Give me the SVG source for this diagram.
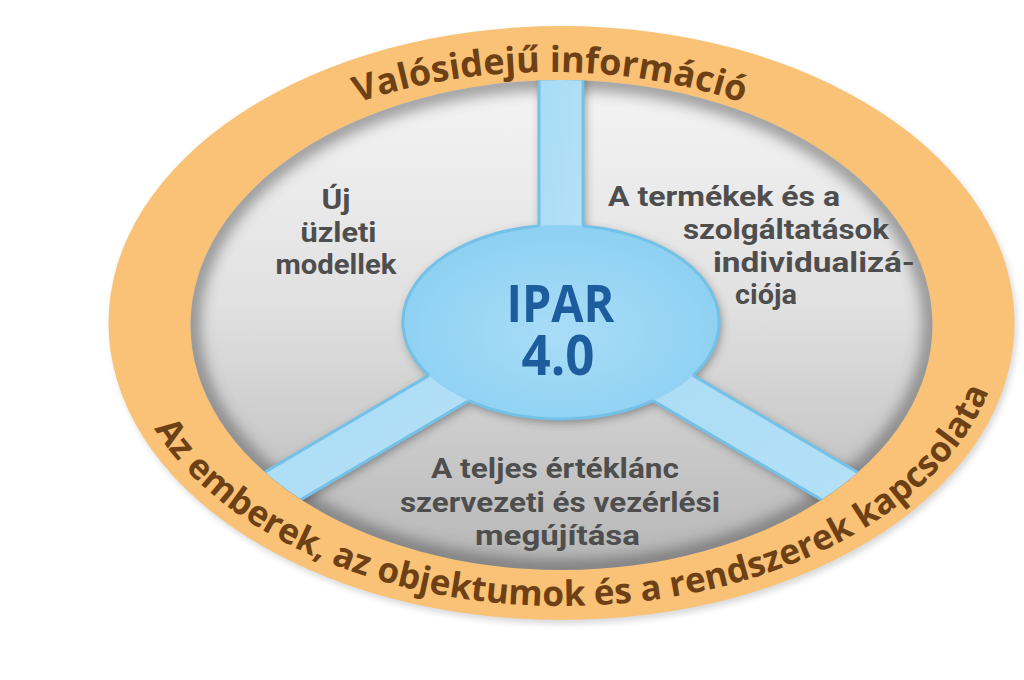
<svg xmlns="http://www.w3.org/2000/svg" width="1024" height="680" viewBox="0 0 1024 680">
<defs>
<style>
.ring{font-family:"Open Sans","Noto Sans","DejaVu Sans",sans-serif;font-weight:700;fill:#6d4115;}
.seg{font-family:Roboto,"Open Sans","DejaVu Sans",sans-serif;font-weight:700;font-size:27.5px;fill:#4e4e4e;}
.hub{font-family:"Open Sans","Noto Sans","DejaVu Sans",sans-serif;font-weight:700;fill:#1d5d9d;}
.spoke{fill:url(#spokeFill);}
.edge{stroke:#74c1e8;stroke-width:3;fill:none;}
.shadow{fill:#333333;}
</style>
<clipPath id="clipInner"><ellipse cx="561.5" cy="325" rx="371" ry="245"/></clipPath>
<linearGradient id="grayFill" gradientUnits="userSpaceOnUse" x1="0" y1="80" x2="0" y2="570">
<stop offset="0" stop-color="#f4f4f4"/>
<stop offset="0.45" stop-color="#e1e1e1"/>
<stop offset="0.75" stop-color="#c9c9c9"/>
<stop offset="1" stop-color="#b6b6b6"/>
</linearGradient>
<radialGradient id="hubFill" cx="0.5" cy="0.55" r="0.55">
<stop offset="0" stop-color="#a8ddf7"/>
<stop offset="1" stop-color="#8dd0f2"/>
</radialGradient>
<linearGradient id="spokeFill" x1="0" y1="0" x2="1" y2="1">
<stop offset="0" stop-color="#a8dbf5"/>
<stop offset="1" stop-color="#b6e2f7"/>
</linearGradient>
<filter id="blur3" x="-10%" y="-10%" width="120%" height="120%"><feGaussianBlur stdDeviation="3"/></filter>
<filter id="blur5" x="-20%" y="-20%" width="140%" height="140%"><feGaussianBlur stdDeviation="5"/></filter>
<filter id="blur7" x="-10%" y="-10%" width="120%" height="120%"><feGaussianBlur stdDeviation="7"/></filter>
<path id="arcTop" d="M 360 102 A 400 250 0 0 1 740 102"/>
<path id="arcBottom" d="M 155.5 430.7 A 440 284 0 0 0 988 393.1"/>
</defs>

<rect width="1024" height="680" fill="#ffffff"/>

<g id="ring">
<ellipse cx="564" cy="327" rx="453" ry="297" fill="#000" opacity="0.15" filter="url(#blur3)"/>
<ellipse cx="561.5" cy="323" rx="453" ry="297" fill="#f9c276"/>
</g>

<g id="field">
<ellipse cx="561.5" cy="325" rx="371" ry="245" fill="url(#grayFill)"/>
<g clip-path="url(#clipInner)">
<ellipse cx="561.5" cy="325" rx="371" ry="245" fill="none" stroke="#4a4a4a" stroke-width="20" opacity="0.5" filter="url(#blur7)"/>
<g class="shadow" opacity="0.5" filter="url(#blur5)" transform="translate(2,3)">
<ellipse cx="561" cy="322" rx="158" ry="97"/>
<polygon points="539,322 539,40 583,40 583,322"/>
<polygon points="550.34,303.91 162.6,532.3 184,568.5 571.66,340.09"/>
<polygon points="571.66,303.91 959.4,532.3 938,568.5 550.34,340.09"/>
</g>
</g>
</g>

<g id="connectors" clip-path="url(#clipInner)">
<polygon class="spoke" points="539,322 539,60 583,60 583,322"/>
<polygon class="spoke" points="550.34,303.91 162.6,532.3 184,568.5 571.66,340.09"/>
<polygon class="spoke" points="571.66,303.91 959.4,532.3 938,568.5 550.34,340.09"/>
<line class="edge" x1="539" y1="226" x2="539" y2="60"/>
<line class="edge" x1="583" y1="226" x2="583" y2="60"/>
<line class="edge" x1="429" y1="375.4" x2="162.6" y2="532.3"/>
<line class="edge" x1="468.7" y1="400.7" x2="184" y2="568.5"/>
<line class="edge" x1="693" y1="375.4" x2="959.4" y2="532.3"/>
<line class="edge" x1="653.3" y1="400.7" x2="938" y2="568.5"/>
</g>

<g id="node-ipar">
<ellipse cx="561" cy="322" rx="158" ry="97" fill="url(#hubFill)"/>
<path class="edge" d="M 583 225.95 A 158 97 0 0 1 693 375.4 M 653.3 400.7 A 158 97 0 0 1 468.7 400.7 M 429 375.4 A 158 97 0 0 1 539 225.95"/>
<text class="hub" text-anchor="middle"><tspan x="560.5" y="322" font-size="52" textLength="108" lengthAdjust="spacingAndGlyphs">IPAR</tspan><tspan x="558" y="375" font-size="55" textLength="73" lengthAdjust="spacingAndGlyphs">4.0</tspan></text>
</g>

<g id="seg-left">
<text class="seg" text-anchor="middle"><tspan x="336" y="208.5" textLength="29" lengthAdjust="spacingAndGlyphs">Új</tspan><tspan x="338.5" y="241.5" textLength="76" lengthAdjust="spacingAndGlyphs">üzleti</tspan><tspan x="336" y="274" textLength="121" lengthAdjust="spacingAndGlyphs">modellek</tspan></text>
</g>

<g id="seg-right">
<text class="seg"><tspan x="608" y="206" textLength="232" lengthAdjust="spacingAndGlyphs">A termékek és a</tspan><tspan x="683" y="239" textLength="206" lengthAdjust="spacingAndGlyphs">szolgáltatások</tspan><tspan x="713" y="271.5" textLength="202" lengthAdjust="spacingAndGlyphs">individualizá-</tspan><tspan x="735" y="304" textLength="62" lengthAdjust="spacingAndGlyphs">ciója</tspan></text>
</g>

<g id="seg-bottom">
<text class="seg" text-anchor="middle"><tspan x="555" y="478" textLength="248" lengthAdjust="spacingAndGlyphs">A teljes értéklánc</tspan><tspan x="560" y="512" textLength="320" lengthAdjust="spacingAndGlyphs">szervezeti és vezérlési</tspan><tspan x="557.5" y="545" textLength="165" lengthAdjust="spacingAndGlyphs">megújítása</tspan></text>
</g>

<g id="ring-top">
<text class="ring" font-size="36"><textPath href="#arcTop" startOffset="50%" text-anchor="middle">Valósidejű információ</textPath></text>
</g>

<g id="ring-bottom">
<text class="ring" font-size="35"><textPath href="#arcBottom" startOffset="50%" text-anchor="middle">Az emberek, az objektumok és a rendszerek kapcsolata</textPath></text>
</g>
</svg>
